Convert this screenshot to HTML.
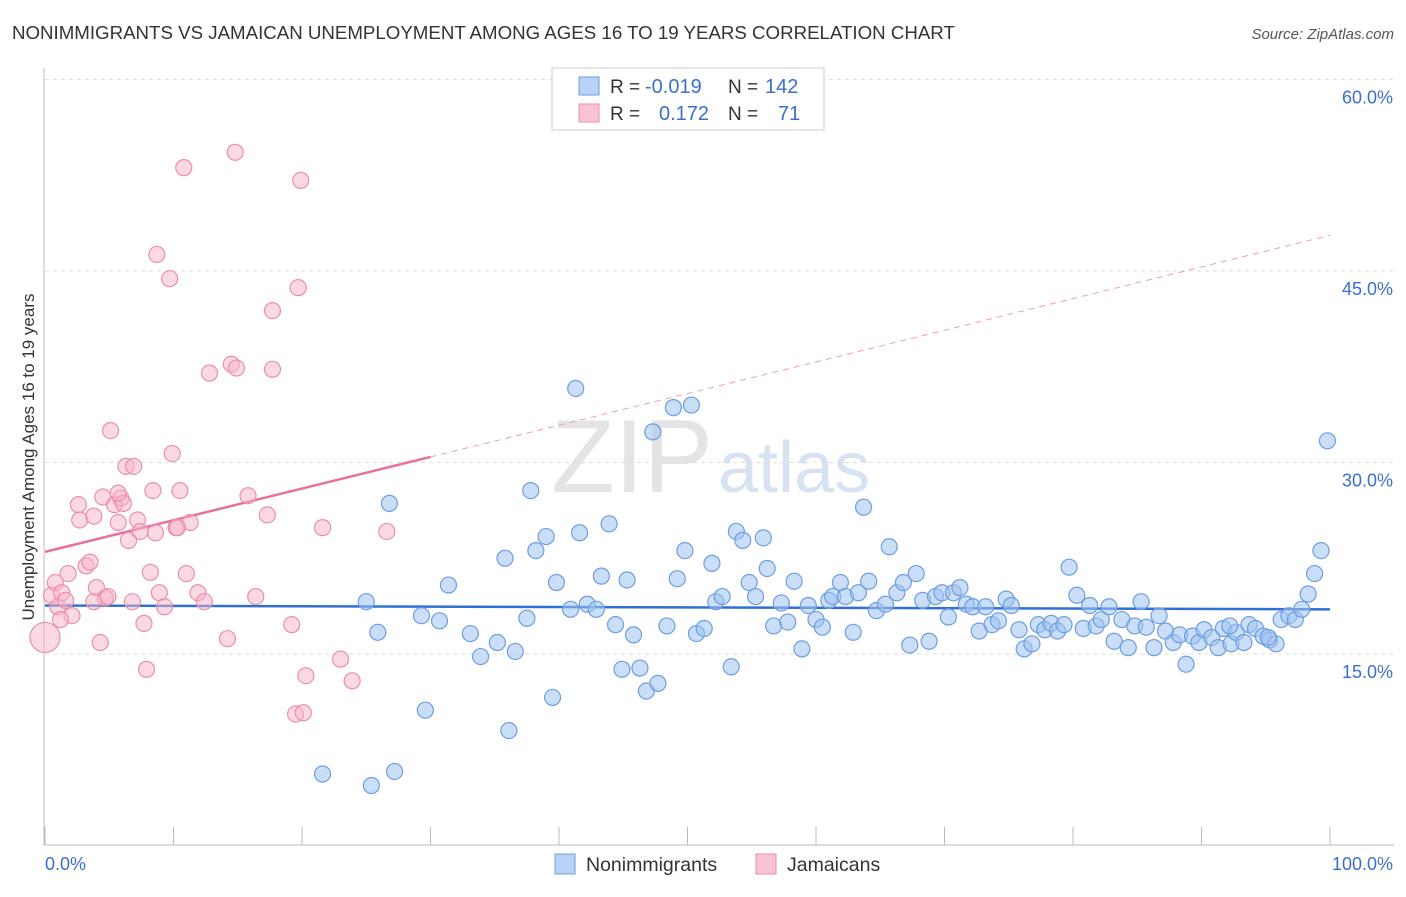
<!DOCTYPE html>
<html><head><meta charset="utf-8">
<style>
body{margin:0;background:#fff;font-family:"Liberation Sans",sans-serif;}
svg text{font-family:"Liberation Sans",sans-serif;}
</style></head>
<body>
<svg id="chart" width="1406" height="892" viewBox="0 0 1406 892" xmlns="http://www.w3.org/2000/svg">
<text x="12" y="39" font-size="18.7" fill="#333">NONIMMIGRANTS VS JAMAICAN UNEMPLOYMENT AMONG AGES 16 TO 19 YEARS CORRELATION CHART</text>
<text x="1394" y="39" font-size="15" fill="#555" text-anchor="end" font-style="italic">Source: ZipAtlas.com</text>
<g>
<text x="713" y="492" font-size="104" fill="#e4e4e4" text-anchor="end" font-family="Liberation Serif">ZIP</text>
<text x="718" y="492" font-size="72" fill="#d7e3f3">atlas</text>
</g>
<g id="grid"></g>
<g id="axes"></g>
<g id="trends"></g>
<g id="points"></g>
<text transform="translate(34,457) rotate(-90)" font-size="17" fill="#333" text-anchor="middle">Unemployment Among Ages 16 to 19 years</text>
<g>
<rect x="552" y="68" width="272" height="62" fill="#fff" stroke="#ccc"/>
<rect x="579" y="77" width="20" height="18" fill="#b8d3f5" stroke="#6d9ee0"/>
<rect x="579" y="104" width="20" height="18" fill="#f9c3d3" stroke="#ea8fae"/>
<text x="610" y="93" font-size="19" fill="#333">R = </text><text x="645" y="93" font-size="20" fill="#3a6fd0">-0.019</text>
<text x="728" y="93" font-size="19" fill="#333">N = </text><text x="765" y="93" font-size="20" fill="#3a6fd0">142</text>
<text x="610" y="120" font-size="19" fill="#333">R = </text><text x="659" y="120" font-size="20" fill="#3a6fd0">0.172</text>
<text x="728" y="120" font-size="19" fill="#333">N = </text><text x="778" y="120" font-size="20" fill="#3a6fd0">71</text>
</g>
<g>
<rect x="555" y="854" width="20" height="20" fill="#b8d3f5" stroke="#6d9ee0"/>
<text x="586" y="871" font-size="19.5" fill="#333">Nonimmigrants</text></g>
<g>
<rect x="756" y="854" width="20" height="20" fill="#f9c3d3" stroke="#ea8fae"/>
<text x="787" y="871" font-size="19.5" fill="#333">Jamaicans</text></g>
</svg>
<script>
const yTicks=[15,30,45,60];
const yTickLabels=["15.0%","30.0%","45.0%","60.0%"];
const xTickVals=[0,10,20,30,40,50,60,70,80,90,100];
const blueX=[21.6,25.4,27.2,29.6,36.1,39.5,46.8,47.7,25.0,25.9,26.8,29.3,30.7,31.4,33.1,33.9,35.2,35.8,36.6,37.5,37.8,38.2,39.0,39.8,40.9,41.3,41.6,42.2,42.9,43.3,43.9,44.4,44.9,45.3,45.8,46.3,47.3,48.4,48.9,49.2,49.8,50.3,50.7,51.3,51.9,52.2,52.7,53.4,53.8,54.3,54.8,55.3,55.9,56.2,56.7,57.3,57.8,58.3,58.9,59.4,60.0,60.5,61.0,61.3,61.9,62.3,62.9,63.3,63.7,64.1,64.7,65.4,65.7,66.3,66.8,67.3,67.8,68.3,68.8,69.3,69.8,70.3,70.7,71.2,71.7,72.2,72.7,73.2,73.7,74.2,74.8,75.2,75.8,76.2,76.8,77.3,77.8,78.3,78.8,79.3,79.7,80.3,80.8,81.3,81.8,82.2,82.8,83.2,83.8,84.3,84.8,85.3,85.7,86.3,86.7,87.2,87.8,88.3,88.8,89.3,89.8,90.2,90.8,91.3,91.7,92.3,92.7,93.3,93.7,94.2,94.8,95.3,95.8,96.2,96.8,97.3,97.8,98.3,98.8,99.3,99.8,95.2,92.2];
const blueY=[5.6,4.7,5.8,10.6,9.0,11.6,12.1,12.7,19.1,16.7,26.8,18.0,17.6,20.4,16.6,14.8,15.9,22.5,15.2,17.8,27.8,23.1,24.2,20.6,18.5,35.8,24.5,18.9,18.5,21.1,25.2,17.3,13.8,20.8,16.5,13.9,32.4,17.2,34.3,20.9,23.1,34.5,16.6,17.0,22.1,19.1,19.5,14.0,24.6,23.9,20.6,19.5,24.1,21.7,17.2,19.0,17.5,20.7,15.4,18.8,17.7,17.1,19.2,19.5,20.6,19.5,16.7,19.8,26.5,20.7,18.4,18.9,23.4,19.8,20.6,15.7,21.3,19.2,16.0,19.5,19.8,17.9,19.8,20.2,18.9,18.7,16.8,18.7,17.3,17.6,19.3,18.8,16.9,15.4,15.8,17.3,16.9,17.4,16.8,17.3,21.8,19.6,17.0,18.8,17.2,17.7,18.7,16.0,17.7,15.5,17.2,19.1,17.1,15.5,18.0,16.8,15.9,16.5,14.2,16.4,15.9,16.9,16.3,15.5,17.0,15.8,16.7,15.9,17.3,17.0,16.4,16.1,15.8,17.7,18.0,17.7,18.5,19.7,21.3,23.1,31.7,16.3,17.2];
const pinkX=[0,0.5,0.8,1.0,1.3,1.6,1.8,2.1,2.6,2.7,3.2,3.5,3.8,4.0,4.3,4.5,4.7,4.9,5.1,5.4,5.7,5.9,6.1,6.3,6.5,6.8,6.9,7.2,7.4,7.7,7.9,8.2,8.4,8.6,8.7,8.9,9.3,9.7,9.9,10.2,10.5,10.8,11.0,11.3,11.9,12.4,12.8,14.2,14.5,14.8,14.9,15.8,16.4,17.3,17.7,17.7,19.2,19.5,19.7,19.9,20.1,20.3,21.6,23.0,23.9,26.6,10.3,5.7,1.2,3.8];
const pinkY=[16.3,19.6,20.6,18.7,19.8,19.2,21.3,18.0,26.7,25.5,21.9,22.2,25.8,20.2,15.9,27.3,19.4,19.5,32.5,26.7,25.3,27.2,26.8,29.7,23.9,19.1,29.7,25.5,24.6,17.4,13.8,21.4,27.8,24.5,46.3,19.8,18.7,44.4,30.7,24.9,27.8,53.1,21.3,25.3,19.8,19.1,37.0,16.2,37.7,54.3,37.4,27.4,19.5,25.9,41.9,37.3,17.3,10.3,43.7,52.1,10.4,13.3,24.9,14.6,12.9,24.6,24.9,27.6,17.7,19.1];
const blueTrend=[18.8,18.5];
const pinkTrend=[23.0,47.8];
const NS="http://www.w3.org/2000/svg";
const X=v=>45+v*12.85;
const Y=v=>845.5-v*12.766;
function mk(tag,attrs,parent){const e=document.createElementNS(NS,tag);for(const k in attrs)e.setAttribute(k,attrs[k]);document.getElementById(parent).appendChild(e);return e;}
yTicks.forEach((t,i)=>{
 const l=mk('line',{x1:45,x2:1394,y1:Y(t),y2:Y(t),stroke:'#ddd','stroke-dasharray':'4,4'},'grid');
 
 
 const tx=mk('text',{x:1393,y:Y(t)+24,'font-size':18,fill:'#3a6fd0','text-anchor':'end'},'grid');
 tx.textContent=yTickLabels[i];
 
 
});
const xa=mk('line',{x1:44,x2:1394,y1:845,y2:845,stroke:'#bbb'},'axes');


const ya=mk('line',{x1:44,x2:44,y1:68,y2:845,stroke:'#bbb'},'axes');


xTickVals.forEach(t=>{
 const l=mk('line',{x1:X(t),x2:X(t),y1:827,y2:845,stroke:'#bbb'},'axes');
 
 
});
const x0=mk('text',{x:45,y:870,'font-size':18,fill:'#3a6fd0'},'axes');x0.textContent='0.0%';


const x1=mk('text',{x:1393,y:870,'font-size':18,fill:'#3a6fd0','text-anchor':'end'},'axes');x1.textContent='100.0%';


blueX.forEach((v,i)=>{
 const c=mk('circle',{cx:X(v),cy:Y(blueY[i]),r:8,fill:'rgba(160,195,240,0.55)',stroke:'#6d9ee0','stroke-width':1.2},'points');
 
 
});
pinkX.forEach((v,i)=>{
 const c=mk('circle',{cx:X(v),cy:Y(pinkY[i]),r:i===0?15:8,fill:'rgba(248,180,200,0.5)',stroke:'#ea8fae','stroke-width':1.2},'points');
 
 
});
const bt=mk('line',{x1:X(0),x2:X(100),y1:Y(blueTrend[0]),y2:Y(blueTrend[1]),stroke:'#2f6fd6','stroke-width':2.5},'trends');


const pAt=x=>pinkTrend[0]+(pinkTrend[1]-pinkTrend[0])*x/100;
const pt=mk('line',{x1:X(0),x2:X(30),y1:Y(pAt(0)),y2:Y(pAt(30)),stroke:'#e8709a','stroke-width':2.5},'trends');


const pd=mk('line',{x1:X(30),x2:X(100),y1:Y(pAt(30)),y2:Y(pAt(100)),stroke:'#e8a0b8','stroke-width':1,'stroke-dasharray':'6,5'},'trends');


</script>
</body></html>
